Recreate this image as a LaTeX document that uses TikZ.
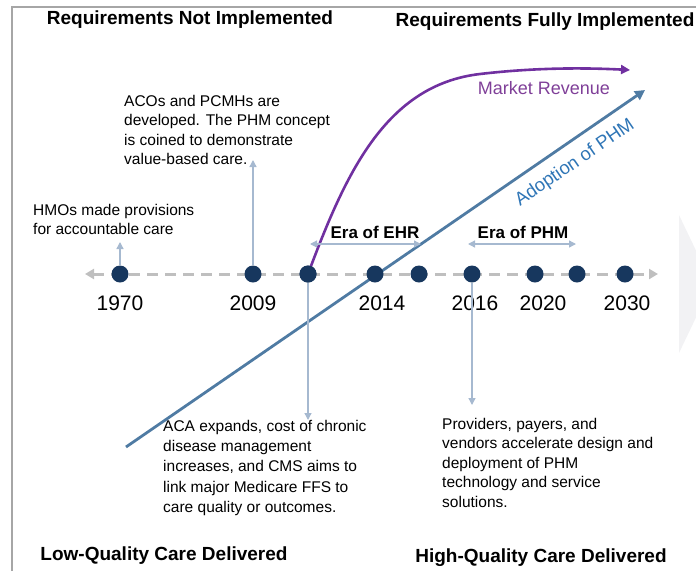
\documentclass[tikz,border=0pt]{standalone}
\usepackage{fontspec}
\setmainfont{Liberation Sans}
\usetikzlibrary{arrows.meta}
\definecolor{dotc}{HTML}{17375E}
\definecolor{conn}{HTML}{A6B9D0}
\definecolor{purp}{HTML}{7030A0}
\definecolor{purptxt}{HTML}{7F3F98}
\definecolor{adopt}{HTML}{4F7BA3}
\definecolor{adopttxt}{HTML}{2E75B6}
\definecolor{dashc}{HTML}{BFBFBF}
\definecolor{framec}{HTML}{A6A6A6}
\definecolor{chev}{HTML}{F2F2F4}
\newcommand{\fsz}[2]{\fontsize{#1}{#2}\selectfont}
\begin{document}
\begin{tikzpicture}[x=1pt,y=-1pt,
  dot/.style={circle,fill=dotc,minimum size=17pt,inner sep=0pt},
  year/.style={font=\fsz{21}{21}},
  conn/.style={draw=conn,line width=1.3pt,-{Triangle[width=7pt,length=7pt]}},
  era/.style={draw=conn,line width=1.3pt,{Triangle[width=7pt,length=7pt]}-{Triangle[width=7pt,length=7pt]}},
  eralbl/.style={font=\fsz{17}{17}\bfseries},
  head/.style={font=\fsz{19}{19}\bfseries},
  foot/.style={font=\fsz{19}{19}\bfseries},
  note/.style={font=\fsz{15.5}{19.5},align=left,anchor=north west,inner sep=0pt},
]
\useasboundingbox (0,0) rectangle (696,571);
\clip (0,0) rectangle (696,571);
% chevron
\fill[chev] (679,215) -- (712,284) -- (679,353) -- cycle;
% frame
\draw[framec,line width=1.5pt] (12,571) -- (12,7) -- (696,7);
% headings
\node[head] (h1) at (190,20) {Requirements Not Implemented};
\node[head] (h2) at (545,22) {Requirements Fully Implemented};
\node[foot] (f1) at (164,556) {Low-Quality Care Delivered};
\node[foot] (f2) at (541,558) {High-Quality Care Delivered};
% timeline
\coordinate (tl) at (85,274);
\coordinate (tr) at (658,274);
\draw[dashc,line width=3pt,dash pattern=on 11pt off 7pt,
  {Triangle[width=10pt,length=9pt]}-{Triangle[width=10pt,length=9pt]}] (tl) -- (tr);
% adoption line
\coordinate (a0) at (126,447);
\coordinate (a1) at (645,90);
\draw[adopt,line width=2.8pt,-{Triangle[width=10pt,length=10pt]}] (a0) -- (a1);
\node[adopttxt,rotate=34.5,font=\fsz{18.5}{18.5},inner sep=0pt] (at) at (575,163) {Adoption of PHM};
% dots
\node[dot] (d1) at (120,274) {};
\node[dot] (d2) at (253,274) {};
\node[dot] (d3) at (308,274) {};
\node[dot] (d4) at (375,274) {};
\node[dot] (d5) at (419,274) {};
\node[dot] (d6) at (472,274) {};
\node[dot] (d7) at (535,274) {};
\node[dot] (d8) at (577,274) {};
\node[dot] (d9) at (625,274) {};
% market revenue
\coordinate (m1) at (480,74);
\coordinate (m2) at (630,70);
\draw[purp,line width=2.6pt,-{Triangle[width=9pt,length=9pt]}]
  (d3.center) .. controls (345,175) and (385,85) .. (m1) .. controls (540,67) and (590,68) .. (m2);
\node[purptxt,font=\fsz{18}{18}] (mr) at (544,88) {Market Revenue};
\node[dot] at (d3) {};
% years
\node[year] (y1) at (120,303) {1970};
\node[year] (y2) at (253,303) {2009};
\node[year] (y3) at (382,303) {2014};
\node[year] (y4) at (475,303) {2016};
\node[year] (y5) at (543,303) {2020};
\node[year] (y6) at (627,303) {2030};
% connectors
\coordinate (c1) at (120,242);
\coordinate (c2) at (253,160);
\coordinate (c3) at (308,420);
\coordinate (c4) at (472,405);
\draw[conn] (d1) -- (c1);
\draw[conn] (d2) -- (c2);
\draw[conn] (d3) -- (c3);
\draw[conn] (d6) -- (c4);
% eras
\coordinate (e1) at (310,244);
\coordinate (e2) at (421,244);
\coordinate (e3) at (468,244);
\coordinate (e4) at (576,244);
\draw[era] (e1) -- (e2);
\draw[era] (e3) -- (e4);
\node[eralbl] (ehr) at (375,232) {Era of EHR};
\node[eralbl] (phm) at (523,232) {Era of PHM};
% notes
\node[note] (n1) at (33,204) {HMOs made provisions\\for accountable care};
\node[note] (n2) at (124,95) {ACOs and PCMHs are\\developed. The PHM concept\\is coined to demonstrate\\value-based care.};
\node[note,font=\fsz{15.5}{20.25}] (n3) at (163,420) {ACA expands, cost of chronic\\disease management\\increases, and CMS aims to\\link major Medicare FFS to\\care quality or outcomes.};
\node[note] (n4) at (442,418) {Providers, payers, and\\vendors accelerate design and\\deployment of PHM\\technology and service\\solutions.};
\end{tikzpicture}
\end{document}
